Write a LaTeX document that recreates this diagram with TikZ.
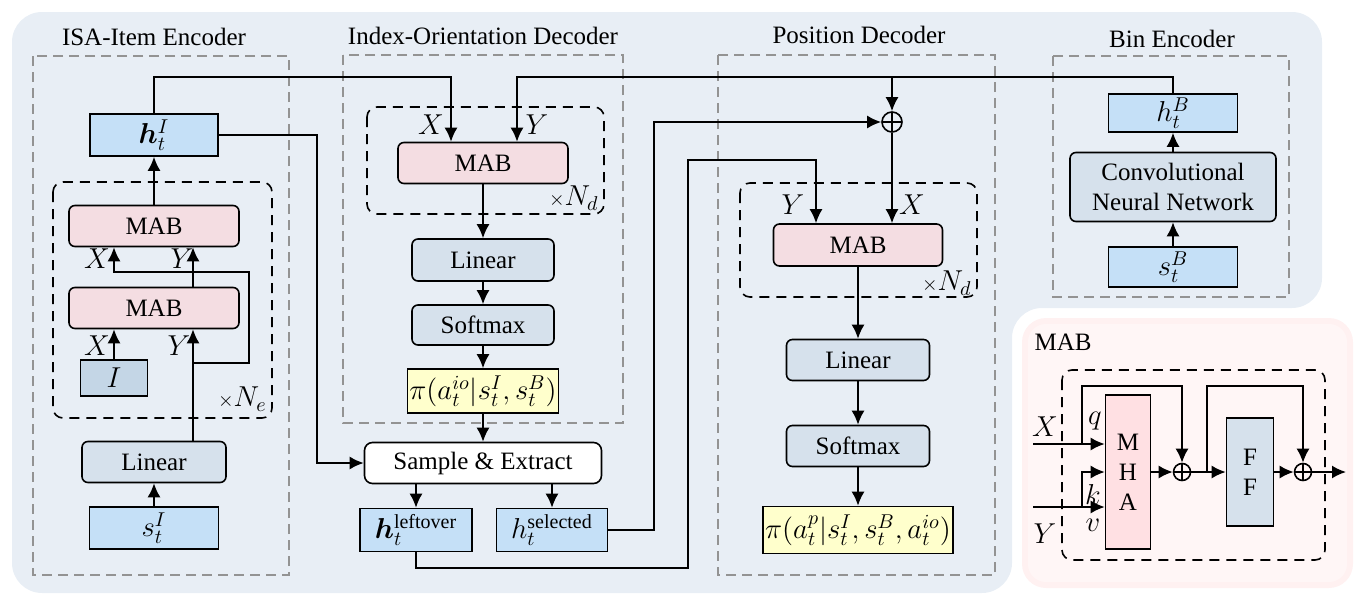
\documentclass[tikz,border=0pt]{standalone}
\usepackage{amsmath,bm}
\usepackage{fontspec}
\setmainfont{Liberation Serif}
\usetikzlibrary{positioning, arrows.meta}
\DeclareMathSizes{12.5}{14}{10}{8}
\definecolor{bgblue}{RGB}{232,238,245}
\definecolor{featblue}{RGB}{197,224,247}
\definecolor{layergray}{RGB}{214,225,236}
\definecolor{idgray}{RGB}{196,214,230}
\definecolor{mabpink}{RGB}{244,221,226}
\definecolor{mhapink}{RGB}{255,224,227}
\definecolor{probyellow}{RGB}{255,255,204}
\definecolor{paneledge}{RGB}{255,241,241}
\definecolor{panelfill}{RGB}{255,246,246}

\begin{document}
\begin{tikzpicture}[x=0.5pt, y=-0.5pt, font=\fontsize{12.5}{15}\selectfont,
    >={Latex[length=7pt,width=6.5pt]}]
    \tikzstyle{box}=[draw=black, line width=0.8pt, inner sep=1pt]
    \tikzstyle{layer}=[box, rounded corners=3pt, fill=layergray]
    \tikzstyle{mab}=[box, rounded corners=3pt, fill=mabpink,
        minimum width=85pt, minimum height=20.5pt]
    \tikzstyle{feat}=[box, fill=featblue]
    \tikzstyle{prob}=[box, fill=probyellow]
    \tikzstyle{groupbox}=[draw=gray!85, dash pattern=on 5pt off 3pt, line width=0.7pt]
    \tikzstyle{repeatbox}=[draw=black, dash pattern=on 5pt off 3.5pt,
        line width=0.8pt, rounded corners=5pt]
    \tikzstyle{wire}=[line width=0.9pt]
    \tikzstyle{sumnode}=[circle, draw, line width=0.8pt, inner sep=0pt,
        path picture={\draw[line width=0.7pt]
          (path picture bounding box.north) -- (path picture bounding box.south)
          (path picture bounding box.west) -- (path picture bounding box.east);}]
    \tikzstyle{lab}=[inner sep=0pt]
    \useasboundingbox (0,0) rectangle (1365,605);

    % backgrounds
    \fill[bgblue, rounded corners=15pt] (12,12) -- (1322,12) -- (1322,308)
        -- (1012,308) -- (1012,593) -- (12,593) -- cycle;
    \fill[paneledge, rounded corners=12pt] (1022,318) rectangle (1353,588);
    \fill[panelfill, rounded corners=9pt] (1028,324) rectangle (1347,582);

    % module frames
    \draw[groupbox] (33,56) rectangle (289,575);
    \draw[groupbox] (343,55) rectangle (623,423);
    \draw[groupbox] (718,55) rectangle (995,575);
    \draw[groupbox] (1053,56) rectangle (1289,297);
    \node (tenc) at (154,37) {ISA-Item Encoder};
    \node (tdec) at (483,36) {Index-Orientation Decoder};
    \node (tpos) at (859,35) {Position Decoder};
    \node (tbin) at (1172,39) {Bin Encoder};

    \draw[repeatbox] (53,182) rectangle (272,418);
    \draw[repeatbox] (367,107) rectangle (604,214);
    \draw[repeatbox] (740,183) rectangle (977,297);
    \draw[repeatbox] (1062,370) rectangle (1325,560);
    \node[lab, anchor=east] (ne) at (267,399) {${\scriptstyle\times}N_e$};
    \node[lab, anchor=east] (nd1) at (599,198) {${\scriptstyle\times}N_d$};
    \node[lab, anchor=east] (nd2) at (972,283) {${\scriptstyle\times}N_d$};

    % ISA-Item encoder
    \begin{scope}
      \node[feat, minimum width=64pt, minimum height=21pt] (hI) at (154,135) {$\bm{h}_t^{I}$};
      \node[mab] (emabB) at (154,226) {MAB};
      \node[mab] (emabA) at (154,308) {MAB};
      \node[box, fill=idgray, minimum width=33.5pt, minimum height=18pt] (ibox) at (114,378) {$I$};
      \node[layer, minimum width=72pt, minimum height=20.5pt] (elin) at (154,462) {Linear};
      \node[feat, minimum width=64.5pt, minimum height=21pt] (sI) at (154,528) {$s_t^{I}$};
    \end{scope}
    \coordinate (ey) at (193,363);
    \coordinate (eskip) at (249,272);
    \draw[wire,->] (sI) -- (elin);
    \draw[wire,->] (elin.north -| ey) -- (emabA.south -| ey);
    \draw[wire,->] (ey) -| (eskip) -| ([xshift=-20pt]emabB.south);
    \draw[wire,->] (ibox.north) -- (ibox.north |- emabA.south);
    \draw[wire,->] ([xshift=19.5pt]emabA.north) -- ([xshift=19.5pt]emabB.south);
    \draw[wire,->] (emabB) -- (hI);
    \node[lab] (exa) at (97,346) {$X$};
    \node[lab] (eya) at (179,346) {$Y$};
    \node[lab] (exb) at (97,259) {$X$};
    \node[lab] (eyb) at (182,259) {$Y$};

    % Index-orientation decoder
    \begin{scope}
      \node[mab] (imab) at (483,163) {MAB};
      \node[layer, minimum width=71pt, minimum height=21pt] (ilin) at (483,260) {Linear};
      \node[layer, minimum width=71pt, minimum height=20pt] (isoft) at (483,325) {Softmax};
      \node[prob, minimum width=75pt, minimum height=22pt] (ipi) at (483,391) {$\pi(a_t^{io}|s_t^{I},s_t^{B})$};
      \node[box, rounded corners=4pt, fill=white, minimum width=118.5pt, minimum height=20.5pt] (samp) at (483,463) {Sample \& Extract};
      \node[feat, minimum width=56pt, minimum height=21.5pt] (left) at (416,530) {$\bm{h}_t^{\text{leftover}}$};
      \node[feat, minimum width=55.5pt, minimum height=21.5pt] (sel) at (552,530) {$h_t^{\text{selected}}$};
    \end{scope}
    \draw[wire,->] (imab) -- (ilin);
    \draw[wire,->] (ilin) -- (isoft);
    \draw[wire,->] (isoft) -- (ipi);
    \draw[wire,->] (ipi) -- (samp);
    \draw[wire,->] (samp.south -| left.north) -- (left.north);
    \draw[wire,->] (samp.south -| sel.north) -- (sel.north);
    \node[lab] (ixa) at (431,125) {$X$};
    \node[lab] (iya) at (537,125) {$Y$};

    % Position decoder
    \begin{scope}
      \node[sumnode, minimum size=10pt] (plus) at (892,122) {};
      \node[mab, minimum width=84.5pt, minimum height=21pt] (pmab) at (858,245) {MAB};
      \node[layer, minimum width=71.5pt, minimum height=20.5pt] (plin) at (858,360) {Linear};
      \node[layer, minimum width=71.5pt, minimum height=20.5pt] (psoft) at (858,446) {Softmax};
      \node[prob, minimum width=95pt, minimum height=23.5pt] (ppi) at (858,530) {$\pi(a_t^{p}|s_t^{I},s_t^{B},a_t^{io})$};
    \end{scope}
    \draw[wire,->] (plus.south) -- (plus.south |- pmab.north);
    \draw[wire,->] (pmab) -- (plin);
    \draw[wire,->] (plin) -- (psoft);
    \draw[wire,->] (psoft) -- (ppi);
    \node[lab] (pya) at (793,205) {$Y$};
    \node[lab] (pxa) at (912,205) {$X$};

    % Bin encoder
    \begin{scope}
      \node[feat, minimum width=64.5pt, minimum height=19pt] (hB) at (1173,113) {$h_t^{B}$};
      \node[layer, align=center, minimum width=103pt, minimum height=34.5pt] (cnn) at (1173,187) {Convolutional\\Neural Network};
      \node[feat, minimum width=64.5pt, minimum height=20pt] (sB) at (1173,267) {$s_t^{B}$};
    \end{scope}
    \draw[wire,->] (sB) -- (cnn);
    \draw[wire,->] (cnn) -- (hB);

    % long connections
    \coordinate (topA) at (451,77);
    \coordinate (topB) at (517,77);
    \coordinate (hIr) at (317,463);
    \coordinate (selr) at (654,122);
    \coordinate (lowA) at (688,568);
    \coordinate (lowB) at (816,160);
    \draw[wire,->] (hI.north) |- (topA) -- (imab.north -| topA);
    \draw[wire,->] (hB.north) |- (topB) -- (imab.north -| topB);
    \draw[wire,->] (plus.north |- topB) -- (plus.north);
    \draw[wire,->] (hI.east) -| (hIr) -- (samp.west);
    \draw[wire,->] (sel.east) -| (selr) -- (plus.west);
    \draw[wire,->] (left.south) |- (lowA) |- (lowB) -- (pmab.north -| lowB);

    % MAB detail
    \node (mabt) at (1063,342) {MAB};
    \begin{scope}
      \node[box, fill=mhapink, align=center, minimum width=22.5pt, minimum height=77pt] (mha) at (1128,472) {M\\H\\A};
      \node[box, fill=layergray, align=center, minimum width=23.5pt, minimum height=54pt] (ff) at (1250,472) {F\\F};
      \node[sumnode, minimum size=8.5pt] (sa) at (1182,472) {};
      \node[sumnode, minimum size=8.5pt] (sb) at (1303,472) {};
    \end{scope}
    \coordinate (xin) at (1033,444);
    \coordinate (yin) at (1033,507);
    \coordinate (xs) at (1082,444);
    \coordinate (ys) at (1082,507);
    \coordinate (xtop) at (1082,386);
    \coordinate (fs) at (1207,472);
    \coordinate (ftop) at (1207,386);
    \coordinate (out) at (1346,472);
    \draw[wire,->] (xin) -- (xin -| mha.west);
    \draw[wire,->] (yin) -- (yin -| mha.west);
    \draw[wire,->] (ys) |- (mha.west);
    \draw[wire,->] (xs) -- (xtop) -| (sa.north);
    \draw[wire,->] (mha.east) -- (sa.west);
    \draw[wire,->] (sa.east) -- (ff.west);
    \draw[wire,->] (fs) -- (ftop) -| (sb.north);
    \draw[wire,->] (ff.east) -- (sb.west);
    \draw[wire,->] (sb.east) -- (out);
    \node[lab] (mx) at (1045,427) {$X$};
    \node[lab] (my) at (1045,534) {$Y$};
    \node[lab] (mq) at (1095,421) {$q$};
    \node[lab] (mk) at (1093,494) {$k$};
    \node[lab] (mv) at (1093,525) {$v$};
\end{tikzpicture}
\end{document}
